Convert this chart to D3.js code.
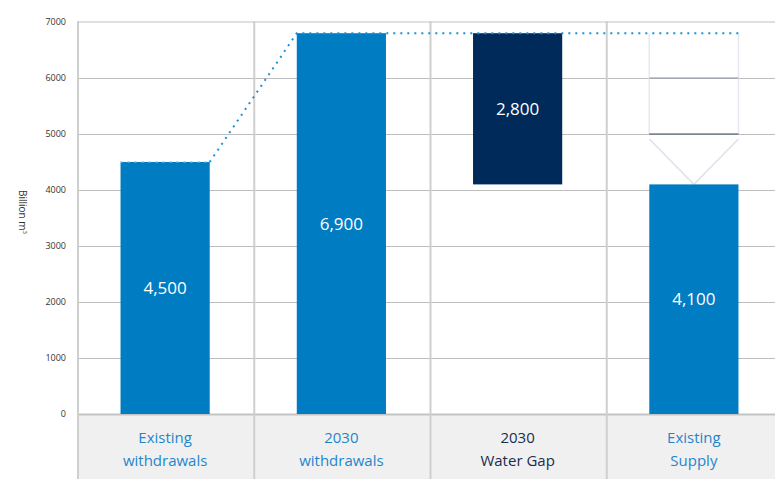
<!DOCTYPE html>
<html><head><meta charset="utf-8">
<script src="https://cdn.jsdelivr.net/npm/d3@7"></script>
<style>body{margin:0;background:#fff}svg{display:block;font-family:"Open Sans",sans-serif}</style>
</head><body><svg id="c" width="775" height="479"></svg>
<script>
const categories = ["Existing withdrawals","2030 withdrawals","2030 Water Gap","Existing Supply"];
const catLine1 = ["Existing","2030","2030","Existing"];
const catLine2 = ["withdrawals","withdrawals","Water Gap","Supply"];
const barBase = [0,0,4100,0];
const barTop = [4500,6800,6800,4100];
const valueLabels = ["4,500","6,900","2,800","4,100"];
const ghostLevels = [6800,6000,5000];
const ghostTip = 4100;
const yTicks = [0,1000,2000,3000,4000,5000,6000,7000];

const svg = d3.select("#c");
const x = d3.scaleBand().domain(categories).range([77,782]).paddingInner(0).paddingOuter(0);
const y = d3.scaleLinear().domain([0,7000]).range([414,22]);
const bw = x.bandwidth()*0.506;
const bx = c => x(c) + (x.bandwidth()-bw)/2;

// category band
svg.append("rect").attr("x",77).attr("y",y(0)).attr("width",705).attr("height",479-y(0)).attr("fill","#f0f0f0");

// horizontal grid
svg.append("g").selectAll("line").data(yTicks.filter(t=>t<7000)).join("line")
  .attr("x1",77).attr("x2",782).attr("y1",d=>y(d)+0.5).attr("y2",d=>y(d)+0.5)
  .attr("stroke",d=>d===0?"#c4c4c4":"#bdbdbd").attr("stroke-width",d=>d===0?2:1);
svg.append("line").attr("x1",77).attr("x2",782).attr("y1",y(7000)).attr("y2",y(7000))
  .attr("stroke","#e0e0e0").attr("stroke-width",2);

// vertical separators
svg.append("g").selectAll("line").data(categories).join("line")
  .attr("x1",d=>x(d)+1).attr("x2",d=>x(d)+1).attr("y1",y(7000)-1).attr("y2",479)
  .attr("stroke","#cfcfcf").attr("stroke-width",2);

// y tick labels
svg.append("g").selectAll("text").data(yTicks).join("text")
  .attr("x",66).attr("y",d=>y(d)).attr("dy","0.35em").attr("text-anchor","end")
  .attr("font-size",9).attr("fill","#333").text(d=>d);

// axis title
svg.append("text").attr("transform","translate(19,212) rotate(90)")
  .attr("text-anchor","middle").attr("font-size",10).attr("fill","#333")
  .html('Billion m<tspan dy="-4" font-size="6">3</tspan>');

// ghost box for existing supply
const sc = categories[3];
const gx0 = bx(sc), gx1 = bx(sc)+bw, gcx = x(sc)+x.bandwidth()/2;
svg.append("g").selectAll("line").data([gx0,gx1]).join("line")
  .attr("x1",d=>d).attr("x2",d=>d).attr("y1",y(ghostLevels[0])).attr("y2",y(ghostLevels[2]))
  .attr("stroke","#e6e8ef").attr("stroke-width",1.5);
svg.append("path")
  .attr("d",`M${gx0},${y(ghostLevels[2])+5} L${gcx},${y(ghostTip)} L${gx1},${y(ghostLevels[2])+5}`)
  .attr("fill","none").attr("stroke","#dfe2e8").attr("stroke-width",1.5);
svg.append("g").selectAll("line").data(ghostLevels.slice(1)).join("line")
  .attr("x1",gx0).attr("x2",gx1).attr("y1",d=>y(d)).attr("y2",d=>y(d))
  .attr("stroke",(d,i)=>i===0?"#8a93a6":"#3d4b6b").attr("stroke-width",1.2);

// bars
svg.append("g").selectAll("rect").data(categories).join("rect")
  .attr("x",d=>bx(d)).attr("width",bw)
  .attr("y",(d,i)=>y(barTop[i])).attr("height",(d,i)=>y(barBase[i])-y(barTop[i]))
  .attr("fill",(d,i)=>i===2?"#002a5a":"#007cc2");

// dotted connector
const c0 = categories[0], c1 = categories[1];
svg.append("line").attr("x1",bx(c0)).attr("x2",bx(c0)+bw).attr("y1",y(barTop[0])).attr("y2",y(barTop[0]))
  .attr("stroke","#7fbde6").attr("stroke-width",1.5).attr("stroke-dasharray","2,5");
svg.append("path")
  .attr("d",`M${bx(c0)+bw},${y(barTop[0])} L${bx(c1)},${y(barTop[1])} L${gx1},${y(barTop[1])}`)
  .attr("fill","none").attr("stroke","#1e8fd6").attr("stroke-width",2).attr("stroke-dasharray","2,5");

// value labels
svg.append("g").selectAll("text").data(categories).join("text")
  .attr("x",d=>x(d)+x.bandwidth()/2)
  .attr("y",(d,i)=>(y(barTop[i])+y(barBase[i]))/2)
  .attr("dy","0.35em").attr("text-anchor","middle").attr("font-size",17).attr("fill","#fff")
  .text((d,i)=>valueLabels[i]);

// category labels
const cl = svg.append("g").selectAll("text").data(categories).join("text")
  .attr("x",d=>x(d)+x.bandwidth()/2).attr("text-anchor","middle").attr("font-size",15)
  .attr("fill",(d,i)=>i===2?"#1c2c52":"#1f86cc");
cl.append("tspan").attr("x",d=>x(d)+x.bandwidth()/2).attr("y",443).text((d,i)=>catLine1[i]);
cl.append("tspan").attr("x",d=>x(d)+x.bandwidth()/2).attr("y",466).text((d,i)=>catLine2[i]);
</script></body></html>
